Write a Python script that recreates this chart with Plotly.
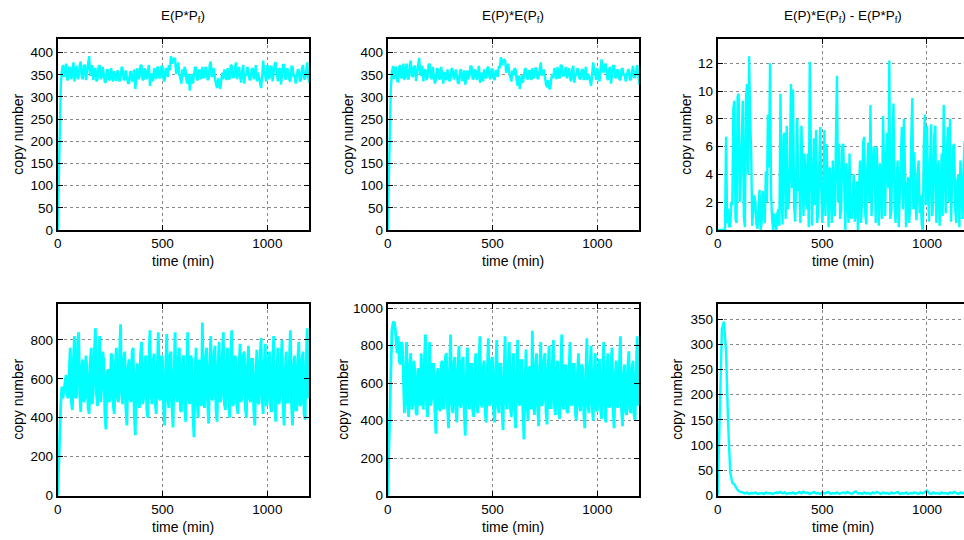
import plotly.graph_objects as go

W, H = 964, 540

# ---------------- data ----------------
time_5 = list(range(0, 1201, 5))
time_10 = list(range(0, 1201, 10))

# E(P*Pf)
e_p_pf = [0, 120, 250, 330, 360, 372, 345, 368, 375, 338, 340, 366, 365, 340, 352, 378, 335, 362, 370, 340,
          345, 372, 380, 345, 340, 370, 372, 338, 360, 385, 392, 350, 350, 372, 338, 360, 365, 335, 340, 368,
          372, 340, 345, 368, 350, 332, 335, 362, 360, 338, 340, 365, 345, 335, 358, 342, 336, 360, 350, 335,
          345, 368, 362, 338, 340, 360, 345, 332, 330, 355, 358, 335, 340, 362, 318, 345, 365, 340, 345, 372,
          370, 338, 340, 365, 355, 340, 360, 372, 325, 350, 352, 335, 365, 348, 340, 368, 365, 342, 345, 370,
          368, 340, 335, 365, 362, 345, 372, 360, 392, 375, 380, 388, 385, 352, 360, 378, 352, 338, 330, 362,
          345, 368, 360, 335, 330, 352, 314, 340, 352, 330, 345, 368, 365, 338, 340, 362, 355, 340, 368, 345,
          345, 368, 360, 338, 342, 372, 380, 345, 350, 365, 340, 325, 320, 342, 325, 318, 338, 355, 340, 362,
          352, 338, 365, 342, 340, 372, 370, 345, 345, 362, 378, 340, 355, 368, 345, 332, 360, 372, 330, 352,
          348, 368, 355, 338, 340, 362, 365, 340, 350, 372, 335, 355, 345, 335, 320, 345, 382, 360, 350, 335,
          372, 350, 340, 368, 368, 335, 352, 375, 378, 345, 335, 362, 365, 328, 350, 372, 372, 342, 340, 365,
          355, 338, 335, 368, 368, 345, 350, 330, 345, 362, 360, 335, 338, 365, 372, 342, 340, 360, 378, 345,
          332]

# E(P)*E(Pf)
ep_epf = [0, 110, 240, 320, 355, 370, 340, 365, 368, 336, 335, 368, 372, 342, 345, 375, 338, 360, 375, 342,
          340, 370, 382, 348, 345, 368, 370, 336, 355, 380, 388, 352, 348, 370, 335, 358, 362, 338, 345, 372,
          375, 345, 340, 368, 352, 330, 338, 365, 362, 340, 342, 368, 348, 330, 356, 345, 338, 362, 352, 335,
          342, 365, 360, 340, 345, 362, 348, 330, 332, 358, 362, 338, 338, 360, 328, 345, 360, 340, 348, 370,
          368, 340, 342, 362, 358, 338, 352, 370, 332, 348, 355, 335, 362, 345, 342, 365, 368, 345, 340, 362,
          362, 342, 338, 360, 358, 345, 370, 365, 390, 372, 378, 385, 382, 355, 362, 375, 355, 340, 335, 360,
          348, 365, 362, 338, 325, 348, 318, 335, 350, 332, 348, 365, 362, 340, 342, 360, 358, 338, 365, 342,
          348, 366, 362, 340, 345, 370, 378, 348, 352, 362, 342, 328, 322, 338, 320, 318, 340, 352, 342, 365,
          355, 340, 368, 345, 342, 370, 372, 348, 348, 360, 368, 342, 358, 365, 342, 335, 362, 370, 332, 350,
          350, 365, 358, 340, 342, 360, 362, 338, 352, 368, 338, 352, 348, 335, 325, 350, 378, 358, 352, 338,
          365, 348, 335, 362, 385, 360, 355, 372, 375, 348, 338, 360, 368, 330, 352, 370, 370, 345, 342, 362,
          358, 340, 338, 362, 365, 348, 352, 335, 348, 360, 362, 338, 340, 362, 370, 345, 345, 360, 372, 350,
          328]

# E(P)*E(Pf) - E(P*Pf)
diff_cov = [0, 0, 0, 0, 0, 0, 0, 0, 6.7, 0.5, 1.5, 0.2, 0.3, 2.0, 1.8, 8.8, 9.3, 0.8, 0.5, 9.6,
            9.8, 2.0, 3.5, 6.2, 9.3, 1.0, 0.2, 9.4, 10.5, 4.0, 12.5, 8.0, 5.5, 0.3, 1.2, 2.5, 2.0, 0.4, 0.1, 1.5,
            2.9, 0.0, 0.5, 2.8, 1.8, 0.5, 4.2, 2.0, 8.3, 4.5, 12.0, 2.5, 0.8, 0.0, 1.2, 0.6, 0.0, 1.2, 1.5, 0.3,
            9.8, 2.5, 0.4, 6.8, 7.0, 0.8, 7.5, 1.5, 2.0, 4.5, 10.5, 3.0, 10.1, 1.8, 0.6, 3.5, 8.0, 2.8, 3.7, 0.5,
            7.5, 4.8, 1.0, 5.5, 4.0, 1.5, 5.5, 0.2, 12.1, 4.0, 0.3, 2.5, 6.6, 1.8, 7.2, 0.5, 1.2, 4.5, 7.4, 3.0,
            0.5, 2.2, 7.2, 1.0, 6.2, 3.8, 0.2, 4.5, 3.3, 0.5, 5.0, 2.0, 1.0, 6.5, 11.1, 2.0, 6.2, 0.8, 1.5, 6.0,
            6.2, 3.0, 0.0, 4.8, 2.5, 0.5, 5.5, 1.0, 0.8, 3.0, 4.0, 0.6, 1.5, 3.5, 0.0, 2.8, 5.0, 0.5, 2.2, 6.3,
            6.7, 1.2, 0.4, 4.5, 6.3, 2.0, 9.0, 1.0, 3.0, 6.0, 5.0, 0.5, 6.0, 2.5, 0.3, 4.8, 2.5, 0.8, 8.2, 4.0,
            1.0, 5.5, 7.0, 3.0, 12.2, 0.8, 1.5, 6.5, 9.1, 2.0, 0.5, 3.5, 5.0, 0.2, 3.0, 6.0, 7.4, 1.5, 8.0, 4.2,
            0.2, 2.5, 3.8, 0.5, 1.8, 6.5, 9.5, 1.5, 5.6, 2.0, 0.7, 4.0, 5.0, 1.2, 2.5, 0.4, 0.0, 6.0, 8.3, 1.8,
            7.5, 3.0, 0.6, 5.0, 7.6, 1.0, 2.0, 6.8, 7.5, 0.5, 3.5, 5.0, 0.3, 2.2, 5.5, 1.0, 9.0, 4.5, 1.2, 5.5,
            7.4, 2.0, 8.0, 0.6, 3.0, 6.0, 6.2, 1.5, 0.5, 3.5, 4.0, 0.2, 5.0, 2.5, 0.8, 4.5, 6.4, 0.5, 2.0, 5.5,
            6.4]

# bottom row
bottom_left = [0, 180, 380, 480, 560, 500, 540, 600, 620, 520, 500, 640, 760, 480, 440, 700, 820, 500, 520, 780,
               840, 520, 430, 660, 700, 480, 500, 720, 640, 450, 420, 680, 760, 470, 540, 740, 860, 520, 460, 700,
               820, 480, 560, 740, 690, 420, 340, 620, 650, 480, 500, 730, 720, 460, 420, 680, 760, 500, 480, 720,
               880, 520, 470, 700, 740, 450, 360, 650, 700, 500, 480, 740, 760, 420, 310, 620, 680, 480, 450, 720,
               790, 470, 500, 680, 720, 440, 400, 700, 850, 520, 470, 690, 730, 480, 420, 660, 840, 500, 490, 720,
               700, 450, 360, 640, 830, 500, 450, 720, 740, 460, 350, 620, 840, 520, 480, 700, 760, 440, 430, 680,
               720, 480, 380, 660, 840, 500, 470, 720, 690, 420, 300, 640, 760, 480, 400, 700, 650, 460, 890, 520,
               450, 700, 760, 480, 370, 660, 820, 500, 490, 720, 770, 440, 380, 680, 790, 480, 500, 720, 840, 470,
               440, 680, 760, 500, 400, 700, 850, 460, 480, 720, 700, 450, 420, 660, 780, 480, 520, 720, 740, 450,
               400, 660, 770, 500, 480, 700, 700, 440, 360, 620, 750, 480, 470, 700, 810, 500, 420, 680, 780, 460,
               480, 700, 740, 460, 430, 680, 820, 500, 380, 640, 760, 470, 500, 700, 800, 460, 360, 640, 740, 480,
               480, 700, 850, 470, 360, 660, 720, 440, 440, 700, 790, 460, 470, 700, 740, 420, 390, 680, 860, 500,
               560]

bottom_mid = [0, 260, 520, 760, 880, 920, 930, 900, 820, 760, 850, 720, 700, 820, 800, 640, 440, 620, 820, 480,
              420, 700, 760, 460, 480, 720, 660, 440, 430, 680, 640, 480, 760, 520, 460, 720, 860, 500, 420, 680,
              820, 480, 520, 700, 700, 450, 330, 640, 680, 470, 450, 700, 720, 460, 500, 740, 760, 480, 360, 660,
              860, 500, 440, 700, 740, 460, 390, 680, 800, 480, 470, 720, 740, 440, 320, 640, 790, 500, 460, 700,
              700, 460, 420, 680, 760, 480, 440, 700, 850, 500, 470, 680, 720, 440, 390, 660, 840, 480, 500, 720,
              740, 460, 390, 660, 830, 480, 440, 700, 700, 460, 350, 640, 850, 500, 460, 700, 820, 470, 420, 680,
              760, 460, 360, 640, 830, 500, 480, 720, 720, 440, 300, 620, 780, 480, 400, 680, 690, 460, 880, 500,
              430, 680, 760, 470, 370, 660, 820, 480, 500, 720, 760, 450, 380, 680, 800, 470, 470, 700, 830, 480,
              430, 680, 720, 460, 410, 680, 860, 480, 460, 700, 690, 450, 440, 680, 820, 480, 490, 700, 700, 440,
              400, 660, 760, 480, 450, 700, 680, 440, 360, 640, 840, 480, 440, 680, 800, 480, 400, 660, 760, 460,
              450, 680, 730, 460, 410, 660, 820, 480, 390, 660, 760, 470, 480, 700, 790, 450, 360, 640, 720, 470,
              480, 700, 850, 460, 370, 640, 700, 450, 430, 680, 770, 460, 440, 680, 720, 430, 400, 660, 850, 480,
              580]

bottom_right = [0, 140, 330, 345, 285, 140, 45, 25, 22, 14,
                9, 7, 5, 4, 6, 3, 5, 4, 6, 3,
                4, 5, 3, 6, 4, 5, 3, 4, 6, 5,
                7, 4, 6, 3, 5, 4, 6, 3, 5, 7,
                4, 8, 5, 6, 3, 5, 7, 4, 5, 3,
                6, 4, 5, 7, 3, 5, 4, 6, 3, 5,
                6, 4, 7, 5, 3, 6, 8, 4, 5, 3,
                6, 4, 5, 3, 6, 4, 7, 5, 3, 6,
                4, 5, 3, 6, 4, 5, 7, 3, 5, 4,
                6, 3, 5, 4, 6, 5, 3, 6, 4, 7,
                10, 5, 3, 6, 4, 5, 3, 6, 4, 5,
                3, 6, 4, 7, 5, 3, 6, 4, 7, 5,
                6]

series = [e_p_pf, ep_epf, diff_cov, bottom_left, bottom_mid, bottom_right]
times = [time_5, time_5, time_5, time_5, time_5, time_10]
line_widths = [2.4, 2.4, 2.4, 2.8, 2.8, 2.4]
panel_titles = ["E(P*P<sub>f</sub>)", "E(P)*E(P<sub>f</sub>)",
                "E(P)*E(P<sub>f</sub>) - E(P*P<sub>f</sub>)", "", "", ""]
x_label = "time (min)"
y_label = "copy number"
x_tick_vals = [0, 500, 1000]
y_ranges = [[0, 430], [0, 430], [0, 13.72], [0, 985], [0, 1023], [0, 380]]
y_dticks = [50, 50, 2, 200, 200, 50]
x_ranges = [[0, 1200], [0, 1200], [0, 1177], [0, 1200], [0, 1200], [0, 1177]]

# ---------------- layout geometry (pixels) ----------------
col_px = [(57.7, 309.3), (387.7, 639.3), (717.7, 964.0)]
col_center = [182.5, 512.5, 842.5]
row_px = [(39.3, 230.0), (304.0, 495.5)]
ylab_px = [[18, 348, 686], [18, 343, 677]]
xlab_py = [261, 527]

FONT = "Liberation Sans, Arial, Helvetica, sans-serif"
fs_tick = 13.5
fs_lab = 14
fs_title = 13.5

fig = go.Figure()
annotations = []
layout_axes = {}
for i in range(6):
    r, c = divmod(i, 3)
    n = i + 1
    xa = "x" if n == 1 else f"x{n}"
    ya = "y" if n == 1 else f"y{n}"
    fig.add_trace(go.Scatter(x=times[i], y=series[i], mode="lines",
                             line=dict(color="#00FFFF", width=line_widths[i]),
                             xaxis=xa, yaxis=ya, showlegend=False,
                             hoverinfo="skip"))
    x0, x1 = col_px[c]
    y0, y1 = row_px[r]
    common = dict(showline=True, linecolor="black", linewidth=2,
                  ticks="inside", ticklen=5, tickwidth=1, tickcolor="black",
                  showgrid=True, gridcolor="#8a8a8a", griddash="dot", gridwidth=1,
                  zeroline=False, automargin=False,
                  tickfont=dict(family=FONT, size=fs_tick, color="black"))
    layout_axes["xaxis" if n == 1 else f"xaxis{n}"] = dict(
        common, domain=[x0 / W, x1 / W], anchor=ya, range=x_ranges[i],
        tickvals=x_tick_vals, mirror="ticks")
    layout_axes["yaxis" if n == 1 else f"yaxis{n}"] = dict(
        common, domain=[1 - y1 / H, 1 - y0 / H], anchor=xa, range=y_ranges[i],
        dtick=y_dticks[i], tick0=0, mirror=("ticks" if c < 2 else False))
    if panel_titles[i]:
        annotations.append(dict(text=panel_titles[i], x=col_center[c] / W, y=1 - 17 / H,
                                xref="paper", yref="paper", showarrow=False,
                                xanchor="center", yanchor="middle",
                                font=dict(family=FONT, size=fs_title, color="black")))
    annotations.append(dict(text=x_label, x=col_center[c] / W, y=1 - xlab_py[r] / H,
                            xref="paper", yref="paper", showarrow=False,
                            xanchor="center", yanchor="middle",
                            font=dict(family=FONT, size=fs_lab, color="black")))
    annotations.append(dict(text=y_label, x=ylab_px[r][c] / W, y=1 - (y0 + y1) / 2 / H,
                            xref="paper", yref="paper", showarrow=False, textangle=-90,
                            xanchor="center", yanchor="middle",
                            font=dict(family=FONT, size=fs_lab, color="black")))

fig.update_layout(width=W, height=H,
                  margin=dict(l=0, r=0, t=0, b=0, pad=0, autoexpand=False),
                  paper_bgcolor="white", plot_bgcolor="white",
                  showlegend=False, annotations=annotations, **layout_axes)

fig.write_html("out.html", config={"displayModeBar": False},
               post_script="document.body.style.margin='0';document.body.style.overflow='hidden';")
